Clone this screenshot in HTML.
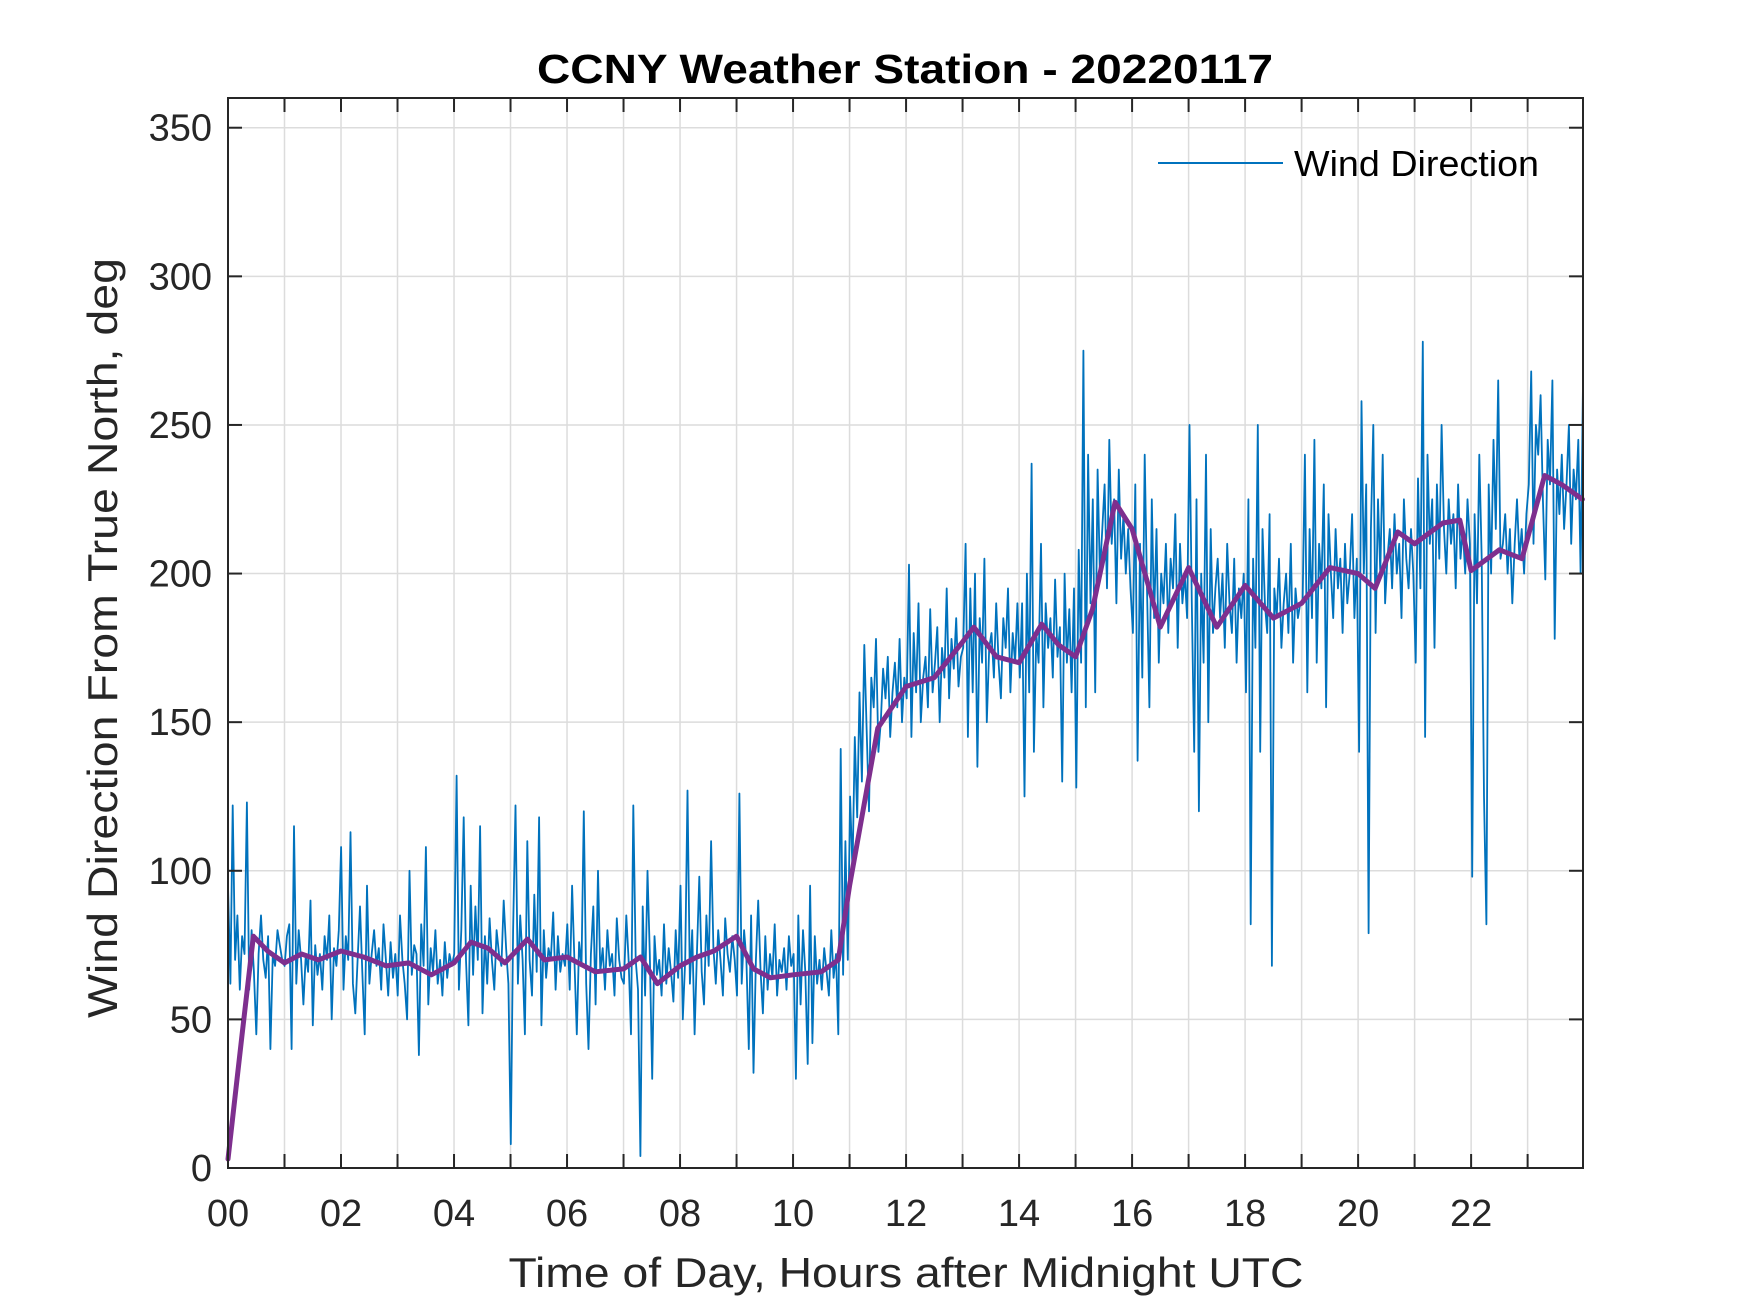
<!DOCTYPE html>
<html><head><meta charset="utf-8"><style>
html,body{margin:0;padding:0;background:#fff}
svg{display:block}
text{font-family:"Liberation Sans",Arial,sans-serif}
</style></head><body>
<svg id="chart" width="1750" height="1313" viewBox="0 0 1750 1313" xmlns="http://www.w3.org/2000/svg">
<rect width="1750" height="1313" fill="#fff"/>
<g id="grid"></g>
<g id="series"></g>
<rect x="228" y="98" width="1355" height="1070" fill="none" stroke="#262626" stroke-width="2"/>
<g id="ticks"></g>
<text x="905" y="83" text-anchor="middle" font-size="41" font-weight="bold" fill="#000" textLength="736" lengthAdjust="spacingAndGlyphs">CCNY Weather Station - 20220117</text>
<text x="916" y="1287" text-anchor="middle" font-size="42" fill="#262626" textLength="795" lengthAdjust="spacingAndGlyphs" transform="translate(-10,0)">Time of Day, Hours after Midnight UTC</text>
<text transform="translate(117,638) rotate(-90)" text-anchor="middle" font-size="42" fill="#262626" textLength="760" lengthAdjust="spacingAndGlyphs">Wind Direction From True North, deg</text>
<g>
<line x1="1158" y1="163" x2="1283" y2="163" stroke="#0072BD" stroke-width="2"/>
<text x="1294" y="176" font-size="36" fill="#000" textLength="245" lengthAdjust="spacingAndGlyphs">Wind Direction</text>
</g>
</svg>
<script>
const yTicks=[0,50,100,150,200,250,300,350];
const xTickLabels=["00","02","04","06","08","10","12","14","16","18","20","22"];
const rawValues=[
95,62,122,70,85,60,78,72,123,60,80,66,45,72,85,70,64,78,40,72,68,80,75,70,
68,78,82,40,115,62,80,70,55,72,66,90,48,75,65,72,60,78,70,85,50,74,68,80,
108,60,78,70,113,62,52,70,88,66,45,95,62,72,80,68,74,60,82,70,58,76,64,72,
58,85,70,62,50,100,65,75,72,38,82,68,108,55,74,66,80,62,70,58,76,64,72,68,
72,132,60,80,118,70,48,95,65,88,70,115,52,78,62,84,70,60,80,72,68,90,74,62,
8,80,122,62,85,70,45,110,70,58,92,66,118,48,80,64,74,70,86,60,78,66,72,68,
82,60,95,70,45,76,68,120,62,40,72,88,55,100,66,74,60,80,68,72,58,84,70,64,
62,85,70,45,122,70,60,4,88,58,100,72,30,78,65,70,58,82,62,74,66,56,80,64,
95,50,70,127,62,80,45,72,98,66,55,85,68,110,74,62,80,70,58,84,72,66,78,70,
58,126,62,80,70,40,85,32,70,90,66,52,78,60,72,64,82,58,70,66,74,60,78,68,
72,30,85,55,80,66,35,95,42,78,62,70,60,74,66,58,80,64,72,45,141,65,110,70,
125,100,145,118,160,130,176,148,120,165,155,178,140,150,168,158,172,145,160,170,155,178,150,165,
158,203,145,180,160,190,150,165,172,155,188,160,170,182,150,175,165,195,158,178,168,185,162,172,
175,210,145,195,160,200,135,185,170,205,150,175,180,165,190,170,158,185,175,195,160,180,170,190,
165,190,125,200,160,237,140,180,170,210,155,190,175,185,165,198,172,182,130,200,170,188,160,195,
128,208,170,275,155,240,190,225,160,235,200,215,230,195,245,210,225,190,235,205,220,200,215,195,
180,230,137,210,165,240,195,155,225,185,215,170,200,190,210,180,205,195,220,175,210,190,200,185,
250,190,140,225,120,200,170,240,150,215,180,195,205,185,200,175,210,190,180,205,170,195,185,200,
160,225,82,205,175,250,140,215,190,180,220,68,195,185,205,175,190,200,180,210,170,195,185,190,
190,240,160,215,185,245,170,210,195,230,155,220,200,185,215,195,205,180,210,190,200,220,185,205,
140,258,200,230,79,215,250,180,225,200,240,190,205,215,195,220,200,210,185,225,205,195,215,200,
170,232,195,278,145,240,210,225,175,230,205,250,215,200,225,210,220,195,230,205,215,200,225,210,
98,220,190,240,205,125,82,230,200,245,215,265,205,210,220,200,215,190,210,225,205,215,200,220,
230,268,210,250,240,260,225,198,245,230,265,178,235,220,240,215,230,250,210,235,225,245,200,264];
const smoothHours=[0,0.25,0.45,0.7,1,1.3,1.6,2,2.4,2.8,3.2,3.6,4,4.3,4.6,4.9,5.3,5.6,6,6.5,7,7.3,7.6,8,8.3,8.6,9,9.3,9.6,10,10.5,10.8,11,11.5,12,12.5,13,13.2,13.6,14,14.4,14.7,15,15.3,15.7,16,16.5,17,17.5,18,18.5,19,19.5,20,20.3,20.7,21,21.5,21.8,22,22.5,22.9,23.3,23.6,23.97];
const smoothValues=[3,45,78,73,69,72,70,73,71,68,69,65,69,76,74,69,77,70,71,66,67,71,62,68,71,73,78,67,64,65,66,70,95,148,162,165,177,182,172,170,183,176,172,188,224,215,182,202,182,196,185,190,202,200,195,214,210,217,218,201,208,205,233,230,225];
const X0=228,X1=1583,Y0=1168,Y1=98,XMAX=23.98,YMAX=360;
const sx=h=>X0+(X1-X0)*h/XMAX;
const sy=v=>Y0-(Y0-Y1)*v/YMAX;
const NS="http://www.w3.org/2000/svg";
const grid=document.getElementById('grid'),ticks=document.getElementById('ticks'),series=document.getElementById('series');
function mk(tag,attrs,parent){const e=document.createElementNS(NS,tag);for(const k in attrs)e.setAttribute(k,attrs[k]);parent.appendChild(e);return e;}
for(let h=1;h<24;h++){
  const x=sx(h);
  const g=mk('line',{x1:x,y1:Y1,x2:x,y2:Y0,stroke:'#dcdcdc','stroke-width':1.5},grid);
  
  
  const t1=mk('line',{x1:x,y1:Y0,x2:x,y2:Y0-14,stroke:'#262626','stroke-width':2},ticks);
  
  
  const t2=mk('line',{x1:x,y1:Y1,x2:x,y2:Y1+14,stroke:'#262626','stroke-width':2},ticks);
  
  
}
xTickLabels.forEach((lab,i)=>{
  const t=mk('text',{x:sx(i*2),y:1226,'text-anchor':'middle','font-size':38,fill:'#262626'},ticks);
  t.textContent=lab;
  
  
});
yTicks.forEach(v=>{
  const y=sy(v);
  if(v>0){const g=mk('line',{x1:X0,y1:y,x2:X1,y2:y,stroke:'#dcdcdc','stroke-width':1.5},grid);
  
  }
  const t1=mk('line',{x1:X0,y1:y,x2:X0+14,y2:y,stroke:'#262626','stroke-width':2},ticks);
  
  
  const t2=mk('line',{x1:X1,y1:y,x2:X1-14,y2:y,stroke:'#262626','stroke-width':2},ticks);
  
  
  const t=mk('text',{x:212,y:y+13,'text-anchor':'end','font-size':38,fill:'#262626'},ticks);
  t.textContent=v;
  
  
});
const n=rawValues.length;
const rawPts=rawValues.map((v,i)=>sx(i*XMAX/(n-1)).toFixed(1)+','+sy(v).toFixed(1)).join(' ');
const raw=mk('polyline',{points:rawPts,fill:'none',stroke:'#0072BD','stroke-width':1.8,'stroke-linejoin':'round'},series);


const smPts=smoothHours.map((h,i)=>sx(h).toFixed(1)+','+sy(smoothValues[i]).toFixed(1)).join(' ');
const sm=mk('polyline',{points:smPts,fill:'none',stroke:'#7E2F8E','stroke-width':5,'stroke-linejoin':'round','stroke-linecap':'round'},series);


</script>
</body></html>
